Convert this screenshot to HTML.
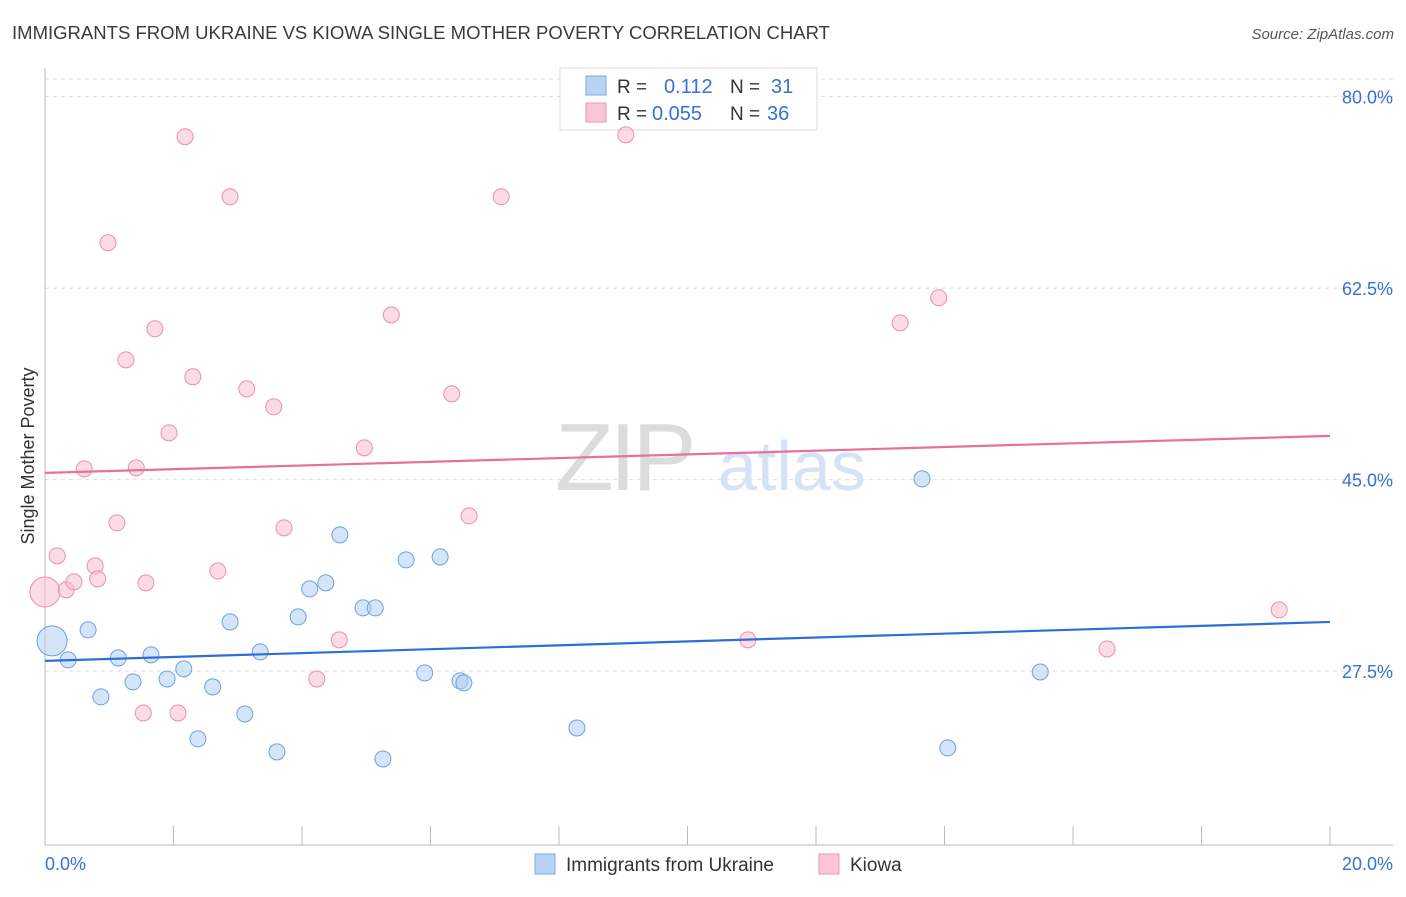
<!DOCTYPE html>
<html><head><meta charset="utf-8">
<style>
body{margin:0;background:#fff;font-family:"Liberation Sans",sans-serif;}
svg text{font-family:"Liberation Sans",sans-serif;}
</style></head>
<body>
<svg id="chart" width="1406" height="892" viewBox="0 0 1406 892" xmlns="http://www.w3.org/2000/svg">
<text x="12" y="39" font-size="18" fill="#3a3a3a" textLength="818" lengthAdjust="spacingAndGlyphs">IMMIGRANTS FROM UKRAINE VS KIOWA SINGLE MOTHER POVERTY CORRELATION CHART</text>
<text x="1394" y="39" font-size="15" fill="#555" text-anchor="end" font-style="italic">Source: ZipAtlas.com</text>
<g id="grid"></g>
<g>
<text x="555" y="490" font-size="96" fill="#dcdcdc" font-family="Liberation Serif" letter-spacing="-4">ZIP</text>
<text x="718" y="490" font-size="70" fill="#d6e3f5">atlas</text>
</g>
<text transform="translate(34,456) rotate(-90)" font-size="18" fill="#333" text-anchor="middle">Single Mother Poverty</text>
<g id="axes"></g>
<g>
<rect x="560" y="68" width="257" height="62" fill="#fff" stroke="#ddd"/>
<rect x="586" y="76" width="20" height="19" fill="#b9d3f5" stroke="#7aa8e6"/>
<rect x="586" y="103" width="20" height="19" fill="#f9c6d4" stroke="#ee95b0"/>
<text x="617" y="93" font-size="19" fill="#333">R =</text>
<text x="664" y="93" font-size="20" fill="#3672d4">0.112</text>
<text x="730" y="93" font-size="19" fill="#333">N =</text>
<text x="771" y="93" font-size="20" fill="#3672d4">31</text>
<text x="617" y="120" font-size="19" fill="#333">R =</text>
<text x="652" y="120" font-size="20" fill="#3672d4">0.055</text>
<text x="730" y="120" font-size="19" fill="#333">N =</text>
<text x="767" y="120" font-size="20" fill="#3672d4">36</text>
</g>
<g id="marks"></g>
<g>
<rect x="535" y="854" width="20" height="20" fill="#b9d3f5" stroke="#7aa8e6"/>
<text x="566" y="871" font-size="19" fill="#333">Immigrants from Ukraine</text>
<rect x="819" y="854" width="20" height="20" fill="#f9c6d4" stroke="#ee95b0"/>
<text x="850" y="871" font-size="19" fill="#333">Kiowa</text>
</g>
</svg>
<script>
const blueX=[0.11,0.36,0.67,0.87,1.14,1.37,1.65,1.90,2.16,2.38,2.61,2.88,3.11,3.35,3.61,3.94,4.12,4.37,4.59,4.95,5.14,5.26,5.62,5.91,6.15,6.46,6.52,8.28,13.65,14.05,15.49];
const blueY=[30.26,28.52,31.26,25.14,28.70,26.51,28.98,26.78,27.70,21.30,26.05,31.99,23.58,29.25,20.11,32.45,35.01,35.56,39.95,33.27,33.27,19.47,37.66,27.33,37.93,26.60,26.42,22.30,45.06,20.48,27.42];
const pinkX=[0,0.19,0.33,0.45,0.61,0.78,0.82,0.98,1.12,1.26,1.42,1.53,1.57,1.71,1.93,2.07,2.18,2.30,2.69,2.88,3.14,3.56,3.72,4.23,4.58,4.97,5.39,6.33,6.60,7.10,9.04,10.94,13.31,13.91,16.53,19.21];
const pinkY=[34.73,38.03,34.92,35.65,45.98,37.11,35.92,66.64,41.04,55.94,46.07,23.67,35.56,58.78,49.27,23.67,76.33,54.39,36.65,70.84,53.29,51.65,40.59,26.78,30.35,47.90,60.05,52.83,41.68,70.84,76.51,30.35,59.32,61.61,29.52,33.09];
const blueTrend=[28.43,31.99];
const pinkTrend=[45.61,48.99];
const yTicks=[80,62.5,45,27.5];
const yTickLabels=["80.0%","62.5%","45.0%","27.5%"];
const xTicks=[0,2,4,6,8,10,12,14,16,18,20];
const xMin=0,xMax=20;
const NS="http://www.w3.org/2000/svg";
const X=v=>45+(v-xMin)/(xMax-xMin)*1285;
const Y=v=>972-v*10.943;
function mk(tag,attrs,parent){const e=document.createElementNS(NS,tag);for(const k in attrs)e.setAttribute(k,attrs[k]);parent.appendChild(e);return e;}
const grid=document.getElementById('grid'),axes=document.getElementById('axes'),marks=document.getElementById('marks');
yTicks.forEach((t,i)=>{
 const l=mk('line',{x1:45,x2:1393,y1:Y(t),y2:Y(t),stroke:'#ddd','stroke-dasharray':'4,4'},grid);
 
 
 const tx=mk('text',{x:1393,y:Y(t)+7,'font-size':18,fill:'#3672d4','text-anchor':'end'},axes);
 tx.textContent=yTickLabels[i];
 
 
});
mk('line',{x1:45,x2:1393,y1:79,y2:79,stroke:'#ddd','stroke-dasharray':'4,4'},grid);
const ya=mk('line',{x1:45,x2:45,y1:68,y2:845,stroke:'#bbb'},axes);


const xa=mk('line',{x1:45,x2:1393,y1:845,y2:845,stroke:'#bbb'},axes);


xTicks.forEach(t=>{const l=mk('line',{x1:X(t),x2:X(t),y1:826,y2:845,stroke:'#bbb'},axes);
 
 });
const xl0=mk('text',{x:45,y:870,'font-size':18,fill:'#3672d4'},axes);xl0.textContent=xMin.toFixed(1)+'%';


const xl1=mk('text',{x:1393,y:870,'font-size':18,fill:'#3672d4','text-anchor':'end'},axes);xl1.textContent=xMax.toFixed(1)+'%';


function pts(xs,ys,fill,stroke,name){xs.forEach((x,i)=>{const r=(i===0)?15:8;
 const c=mk('circle',{cx:X(x),cy:Y(ys[i]),r:r,fill:fill,'fill-opacity':0.55,stroke:stroke,'stroke-width':1},marks);
 
 });}
pts(pinkX,pinkY,'#f7bfd0','#ec8fab','kiowa-point');
pts(blueX,blueY,'#b3cff3','#6f9fe0','ukraine-point');
const bl=mk('line',{x1:X(xMin),x2:X(xMax),y1:Y(blueTrend[0]),y2:Y(blueTrend[1]),stroke:'#2d6fd6','stroke-width':2.2},marks);


const pl=mk('line',{x1:X(xMin),x2:X(xMax),y1:Y(pinkTrend[0]),y2:Y(pinkTrend[1]),stroke:'#e8709a','stroke-width':2.2},marks);


</script>
</body></html>
